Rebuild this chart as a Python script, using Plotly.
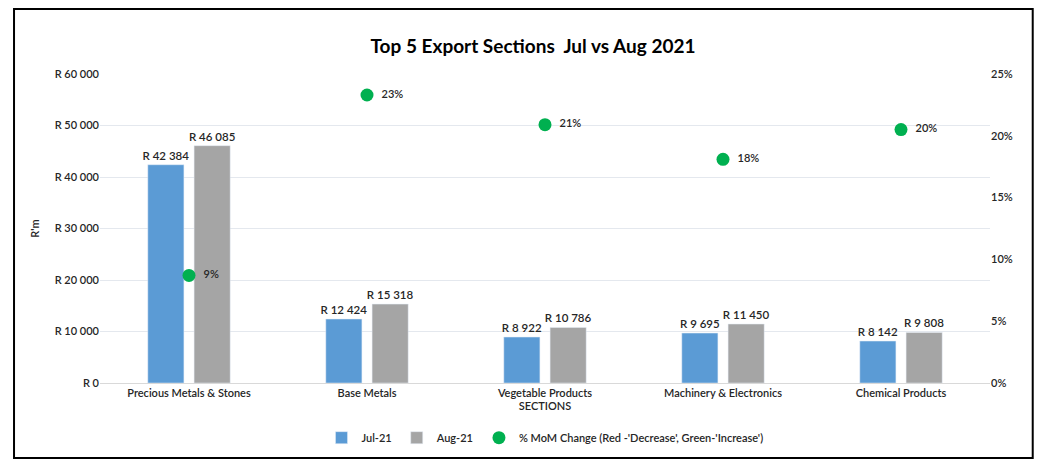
import plotly.graph_objects as go

categories = ["Precious Metals & Stones", "Base Metals", "Vegetable Products",
              "Machinery & Electronics", "Chemical Products"]
jul_21 = [42384, 12424, 8922, 9695, 8142]
aug_21 = [46085, 15318, 10786, 11450, 9808]
mom_change = [0.087, 0.233, 0.209, 0.181, 0.205]
mom_labels = ["9%", "23%", "21%", "18%", "20%"]
y_ticks = [0, 10000, 20000, 30000, 40000, 50000, 60000]
y_ticklabels = ["R 0", "R 10 000", "R 20 000", "R 30 000", "R 40 000", "R 50 000", "R 60 000"]
y2_ticks = [0, 0.05, 0.10, 0.15, 0.20, 0.25]
y2_ticklabels = ["0%", "5%", "10%", "15%", "20%", "25%"]

FONT = "Lato"
TXT = "#262626"

fig = go.Figure()
fig.add_trace(go.Bar(
    x=categories, y=jul_21, name="Jul-21",
    marker=dict(color="#5B9BD5"),
    texttemplate="R %{y:,}", textposition="outside", constraintext="none",
    textfont=dict(size=11.5, color=TXT, family=FONT, weight=600), cliponaxis=False,
))
fig.add_trace(go.Bar(
    x=categories, y=aug_21, name="Aug-21",
    marker=dict(color="#A5A5A5"),
    texttemplate="R %{y:,}", textposition="outside", constraintext="none",
    textfont=dict(size=11.5, color=TXT, family=FONT, weight=600), cliponaxis=False,
))
fig.add_trace(go.Scatter(
    x=categories, y=mom_change, yaxis="y2", mode="markers+text",
    name="% MoM Change (Red -'Decrease', Green-'Increase')",
    marker=dict(color="#00B050", size=13),
    text=mom_labels, texttemplate="  %{text}", textposition="middle right",
    textfont=dict(size=11, color=TXT, family=FONT, weight=600), cliponaxis=False,
))

fig.update_layout(
    width=1050, height=473,
    margin=dict(l=92, r=68, t=66, b=98),
    paper_bgcolor="white", plot_bgcolor="white",
    separators=". ",
    font=dict(family=FONT, size=11, color=TXT, weight=600),
    title=dict(text="<b>Top 5 Export Sections  Jul vs Aug 2021</b>",
               x=0.5, xanchor="center", y=0.918, yanchor="middle",
               font=dict(size=19, color="#000000", family=FONT)),
    barmode="group", bargap=0.48, bargroupgap=0.22,
    xaxis=dict(
        showline=True, linecolor="#D9D9D9", ticks="",
        title=dict(text="SECTIONS", standoff=0, font=dict(size=11, color=TXT, weight=600)),
        tickfont=dict(size=11, color=TXT, weight=600),
    ),
    yaxis=dict(
        range=[0, 60000], tickvals=y_ticks, ticktext=y_ticklabels,
        showgrid=True, gridcolor="#E4E8EE", zeroline=False,
        title=dict(text="R'm", standoff=12, font=dict(size=11, color=TXT, weight=600)),
        tickfont=dict(size=11, color=TXT, weight=600),
    ),
    yaxis2=dict(
        overlaying="y", side="right", range=[0, 0.25],
        tickvals=y2_ticks, ticktext=y2_ticklabels,
        showgrid=False, zeroline=False,
        tickfont=dict(size=11, color=TXT, weight=600),
    ),
    legend=dict(orientation="h", x=0.5, xanchor="center", y=-0.13, yanchor="top",
                font=dict(size=11, color=TXT, weight=600), itemwidth=30),
    shapes=[dict(type="rect", xref="paper", yref="paper",
                 x0=-0.0966, x1=1.048, y0=-0.243, y1=1.21,
                 line=dict(color="#000000", width=2))],
)

fig.write_html("out.html")
